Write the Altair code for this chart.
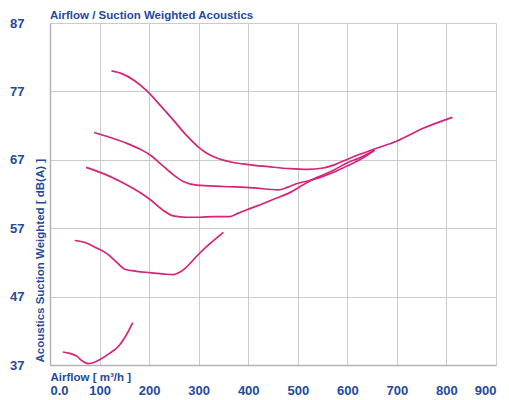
import altair as alt
import pandas as pd

TITLE = "Airflow / Suction Weighted Acoustics"
X_TITLE = "Airflow [ m³/h ]"
Y_TITLE = "Acoustics Suction Weighted [ dB(A) ]"

# curve data (airflow m3/h, dB(A))
c1_x = [124, 145, 170, 195, 222, 249, 275, 299, 320, 343, 370, 400, 440, 484, 520, 551, 575, 598, 625, 652, 699, 753, 812]
c1_y = [80.0, 79.6, 78.6, 77.1, 75.0, 72.8, 70.6, 68.9, 67.8, 67.1, 66.6, 66.3, 66.0, 65.7, 65.6, 65.8, 66.3, 67.0, 67.8, 68.5, 69.7, 71.6, 73.2]

c2_x = [89, 120, 155, 180, 202, 225, 249, 270, 296, 350, 410, 460, 480, 497, 520, 544, 570, 591, 625, 655]
c2_y = [71.0, 70.3, 69.4, 68.6, 67.7, 66.3, 64.8, 63.8, 63.3, 63.1, 62.9, 62.6, 63.0, 63.5, 63.9, 64.4, 65.1, 65.8, 67.0, 68.4]

c3_x = [73, 114, 140, 161, 180, 202, 225, 249, 275, 302, 330, 363, 380, 397, 420, 450, 484, 510, 538, 570, 598, 625, 655]
c3_y = [65.9, 64.8, 63.9, 63.1, 62.3, 61.2, 59.8, 58.8, 58.6, 58.6, 58.7, 58.7, 59.2, 59.7, 60.3, 61.2, 62.2, 63.3, 64.4, 65.4, 66.5, 67.3, 68.4]

c4_x = [50, 75, 94, 110, 118, 135, 151, 175, 202, 230, 249, 260, 269, 282, 296, 322, 350]
c4_y = [55.2, 54.8, 54.1, 53.5, 53.1, 52.0, 51.0, 50.7, 50.5, 50.3, 50.2, 50.5, 50.9, 51.8, 52.9, 54.7, 56.4]

c5_x = [26, 40, 54, 65, 77, 90, 101, 120, 138, 150, 167]
c5_y = [38.9, 38.7, 38.3, 37.6, 37.2, 37.4, 37.8, 38.7, 39.7, 40.9, 43.2]

x_ticks = [0, 100, 200, 300, 400, 500, 600, 700, 800, 900]
y_ticks = [37, 47, 57, 67, 77, 87]

rows = []
for name, xs, ys in [("c1", c1_x, c1_y), ("c2", c2_x, c2_y), ("c3", c3_x, c3_y),
                     ("c4", c4_x, c4_y), ("c5", c5_x, c5_y)]:
    for i, (a, b) in enumerate(zip(xs, ys)):
        rows.append({"curve": name, "airflow": a, "db": b, "order": i})
df = pd.DataFrame(rows)

TEXT = "#234a9c"
FONT = "Liberation Sans"
GRID = "#cbcbcb"

lines = alt.Chart(df).mark_line(
    color="#d6237a", strokeWidth=1.7, interpolate="monotone"
).encode(
    x=alt.X("airflow:Q",
            scale=alt.Scale(domain=[0, 900], nice=False, zero=False),
            axis=alt.Axis(values=x_ticks,
                          labelExpr="datum.value == 0 ? '0.0' : datum.label",
                          title=X_TITLE,
                          titleAnchor="start", titleAlign="left",
                          titleX=0, titleY=15, titleBaseline="alphabetic",
                          labelPadding=19, labelBaseline="top")),
    y=alt.Y("db:Q",
            scale=alt.Scale(domain=[37, 87], nice=False, zero=False),
            axis=alt.Axis(values=y_ticks,
                          title=Y_TITLE,
                          titleAngle=-90, titleAlign="left",
                          titleX=-7, titleY=339, titleBaseline="alphabetic",
                          labelPadding=26)),
    detail="curve:N",
    order="order:Q",
)

title = alt.Chart(pd.DataFrame({"t": [TITLE]})).mark_text(
    align="left", baseline="alphabetic", font=FONT, fontSize=11.5,
    fontWeight="bold", color=TEXT
).encode(
    text="t:N", x=alt.value(0), y=alt.value(-4)
)

chart = alt.layer(lines, title).properties(
    width=446, height=342,
    autosize=alt.AutoSizeParams(type="none"),
    padding={"left": 42, "top": 15, "right": 5, "bottom": 34},
).configure_axis(
    grid=True, gridColor=GRID, gridWidth=1, gridOpacity=1,
    domainColor="#b5b5b5", domainWidth=1.5,
    ticks=False,
    labelFont=FONT, labelFontSize=13, labelFontWeight="bold", labelColor=TEXT,
    titleFont=FONT, titleFontSize=11.5, titleFontWeight="bold", titleColor=TEXT,
).configure_view(stroke=None)

chart.save("out.html", embed_options={"renderer": "svg", "actions": False})
